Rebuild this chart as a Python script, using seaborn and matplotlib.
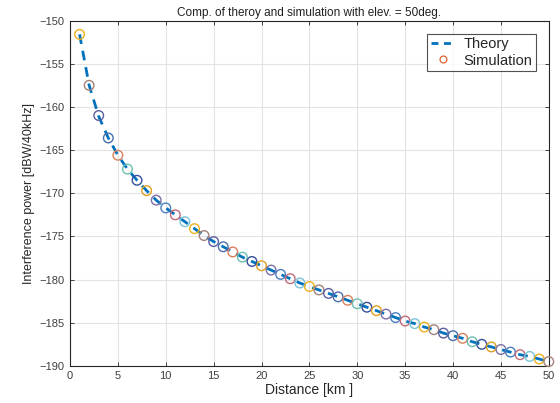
import numpy as np
import pandas as pd
import seaborn as sns
import matplotlib.pyplot as plt
from matplotlib.lines import Line2D

# distance [km] and interference power [dBW/40kHz]
distance = list(range(1, 51))
theory = [-151.6, -157.5, -161.1, -163.6, -165.6, -167.2, -168.5, -169.7, -170.8, -171.7,
          -172.5, -173.3, -174.1, -174.9, -175.6, -176.2, -176.8, -177.4, -177.9, -178.4,
          -178.9, -179.4, -179.9, -180.4, -180.8, -181.2, -181.6, -182.0, -182.4, -182.8,
          -183.2, -183.6, -184.0, -184.4, -184.8, -185.1, -185.5, -185.8, -186.2, -186.5,
          -186.8, -187.2, -187.5, -187.8, -188.1, -188.4, -188.7, -188.9, -189.2, -189.5]
simulation = [-151.6, -157.5, -161.0, -163.6, -165.6, -167.2, -168.5, -169.7, -170.8, -171.7,
              -172.5, -173.3, -174.1, -174.9, -175.6, -176.2, -176.8, -177.4, -177.9, -178.4,
              -178.9, -179.4, -179.9, -180.4, -180.8, -181.2, -181.6, -182.0, -182.4, -182.8,
              -183.2, -183.6, -184.0, -184.4, -184.8, -185.1, -185.5, -185.8, -186.2, -186.5,
              -186.8, -187.2, -187.5, -187.8, -188.1, -188.4, -188.7, -188.9, -189.2, -189.5]

df = pd.DataFrame({'d': distance, 'theory': theory, 'sim': simulation})

matlab = ['#EDB120', '#A2827A', '#5A5FA0', '#4C6FAF', '#D9805F', '#6CC0B0',
          '#35509A', '#E0A020', '#7E6FA8', '#4A7FC0', '#C26A7A', '#7AC3D8']
pal = [matlab[i % len(matlab)] for i in range(len(distance))]

sns.set_style('whitegrid')
plt.rcParams['font.family'] = ['Liberation Sans', 'DejaVu Sans']

fig = plt.figure(figsize=(5.6, 4.03), dpi=100)
ax = fig.add_axes([0.125, 0.092, 0.855, 0.857])

sns.lineplot(data=df, x='d', y='theory', ax=ax, color='#0072BD', lw=2,
             linestyle=(0, (3.5, 2.5)), zorder=3)
sns.scatterplot(data=df, x='d', y='sim', hue='d', palette=pal, ax=ax, legend=False,
                s=48, marker='o', linewidth=1.0, zorder=4, clip_on=False)
# hollow markers
for c in ax.collections:
    c.set_facecolor('none')
    c.set_edgecolor(pal)

ax.set_xlim(0, 50)
ax.set_ylim(-190, -150)
ax.set_xticks(range(0, 51, 5))
ax.set_yticks(range(-190, -149, 5))
ax.grid(True, color='#E3E3E3', lw=0.8)
for s in ax.spines.values():
    s.set_color('#262626')
    s.set_linewidth(0.8)
ax.tick_params(direction='in', length=3, width=0.6, colors='#262626',
               labelcolor='#404040', labelsize=8, top=True, right=True,
               bottom=True, left=True, pad=4)
ax.set_title('Comp. of theroy and simulation with elev. = 50deg.', fontsize=8.5,
             color='#202020', pad=3)
ax.set_xlabel('Distance [km ]', fontsize=10, color='#262626', labelpad=1)
ax.set_ylabel('Interference power [dBW/40kHz]', fontsize=9, color='#262626', labelpad=3)

handles = [Line2D([], [], color='#0072BD', lw=2, linestyle=(0, (2.5, 2))),
           Line2D([], [], color='#D95319', marker='o', markerfacecolor='none',
                  lw=0, markersize=5, markeredgewidth=0.8)]
leg = ax.legend(handles, ['Theory', 'Simulation'], loc='upper right', fontsize=10.5,
                frameon=True, fancybox=False, borderpad=0.25, labelspacing=0.15,
                handlelength=1.6, handletextpad=0.6, borderaxespad=0.9)
leg.get_frame().set_edgecolor('#262626')
leg.get_frame().set_linewidth(0.8)

fig.savefig('out.png', dpi=100)
